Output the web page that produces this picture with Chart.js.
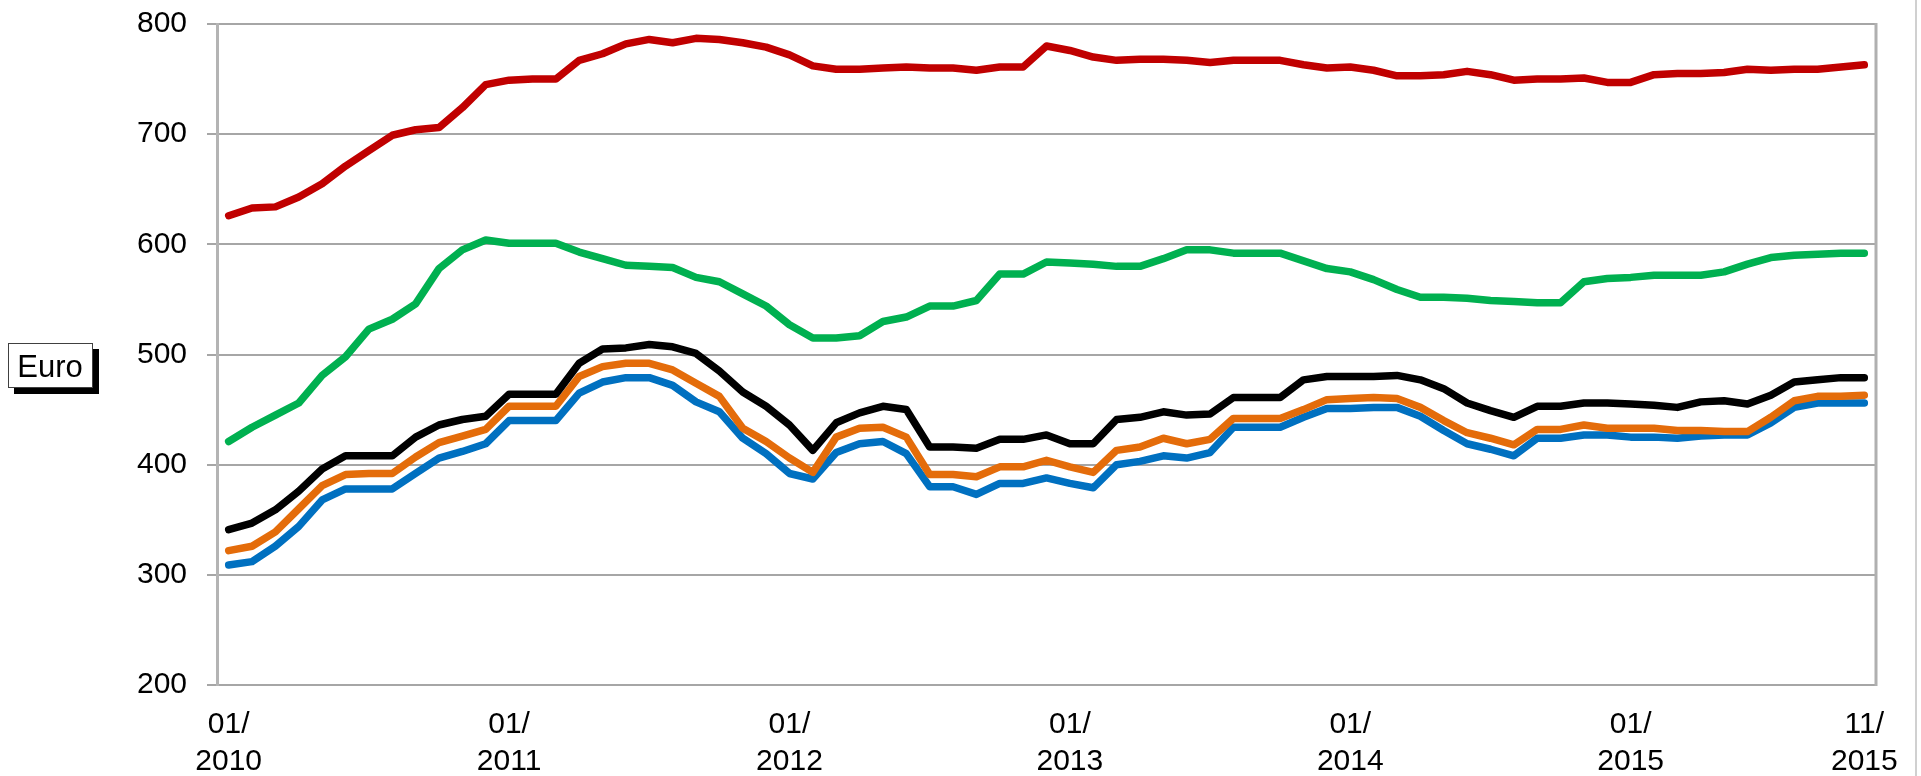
<!DOCTYPE html>
<html>
<head>
<meta charset="utf-8">
<script src="https://cdn.jsdelivr.net/npm/chart.js@4/dist/chart.umd.min.js"></script>
<style>
  html, body { margin: 0; padding: 0; background: #fff; }
  #wrap { width: 1921px; height: 776px; }
</style>
</head>
<body>
<div id="wrap"><canvas id="graph" width="1921" height="776"></canvas></div>
<script>
const months = [
  '01/2010', '02/2010', '03/2010', '04/2010', '05/2010', '06/2010', '07/2010', '08/2010', '09/2010', '10/2010', '11/2010', '12/2010',
  '01/2011', '02/2011', '03/2011', '04/2011', '05/2011', '06/2011', '07/2011', '08/2011', '09/2011', '10/2011', '11/2011', '12/2011',
  '01/2012', '02/2012', '03/2012', '04/2012', '05/2012', '06/2012', '07/2012', '08/2012', '09/2012', '10/2012', '11/2012', '12/2012',
  '01/2013', '02/2013', '03/2013', '04/2013', '05/2013', '06/2013', '07/2013', '08/2013', '09/2013', '10/2013', '11/2013', '12/2013',
  '01/2014', '02/2014', '03/2014', '04/2014', '05/2014', '06/2014', '07/2014', '08/2014', '09/2014', '10/2014', '11/2014', '12/2014',
  '01/2015', '02/2015', '03/2015', '04/2015', '05/2015', '06/2015', '07/2015', '08/2015', '09/2015', '10/2015', '11/2015',
]

// tick labels shown under the x axis
const shownTicks = ['01/2010', '01/2011', '01/2012', '01/2013', '01/2014', '01/2015', '11/2015']

const redValues = [
  626, 633, 634, 643, 655, 671, 685, 699, 704, 706, 724, 745,
  749, 750, 750, 767, 773, 782, 786, 783, 787, 786, 783, 779,
  772, 762, 759, 759, 760, 761, 760, 760, 758, 761, 761, 780,
  776, 770, 767, 768, 768, 767, 765, 767, 767, 767, 763, 760,
  761, 758, 753, 753, 754, 757, 754, 749, 750, 750, 751, 747,
  747, 754, 755, 755, 756, 759, 758, 759, 759, 761, 763,
]

const greenValues = [
  421, 434, 445, 456, 481, 498, 523, 532, 546, 578, 595, 604,
  601, 601, 601, 593, 587, 581, 580, 579, 570, 566, 555, 544,
  527, 515, 515, 517, 530, 534, 544, 544, 549, 573, 573, 584,
  583, 582, 580, 580, 587, 595, 595, 592, 592, 592, 585, 578,
  575, 568, 559, 552, 552, 551, 549, 548, 547, 547, 566, 569,
  570, 572, 572, 572, 575, 582, 588, 590, 591, 592, 592,
]

const blackValues = [
  341, 347, 359, 376, 396, 408, 408, 408, 425, 436, 441, 444,
  464, 464, 464, 492, 505, 506, 509, 507, 501, 485, 466, 453,
  436, 413, 438, 447, 453, 450, 416, 416, 415, 423, 423, 427,
  419, 419, 441, 443, 448, 445, 446, 461, 461, 461, 477, 480,
  480, 480, 481, 477, 469, 456, 449, 443, 453, 453, 456, 456,
  455, 454, 452, 457, 458, 455, 463, 475, 477, 479, 479,
]

const orangeValues = [
  322, 326, 339, 360, 381, 391, 392, 392, 407, 420, 426, 432,
  453, 453, 453, 480, 489, 492, 492, 486, 474, 462, 433, 421,
  406, 393, 425, 433, 434, 425, 391, 391, 389, 398, 398, 404,
  398, 393, 413, 416, 424, 419, 423, 442, 442, 442, 450, 459,
  460, 461, 460, 452, 440, 429, 424, 418, 432, 432, 436, 433,
  433, 433, 431, 431, 430, 430, 443, 458, 462, 462, 463,
]

const blueValues = [
  309, 312, 326, 344, 368, 378, 378, 378, 392, 406, 412, 419,
  440, 440, 440, 465, 475, 479, 479, 472, 457, 448, 424, 410,
  392, 387, 411, 419, 421, 410, 380, 380, 373, 383, 383, 388,
  383, 379, 400, 403, 408, 406, 411, 434, 434, 434, 443, 451,
  451, 452, 452, 444, 431, 419, 414, 408, 424, 424, 427, 427,
  425, 425, 424, 426, 427, 427, 438, 452, 456, 456, 456,
]

const yTicks = [200, 300, 400, 500, 600, 700, 800]
const unitLabel = 'Euro'

const FONT = 'Liberation Sans, Arial, sans-serif'

const line = (data, color) => ({
  data: data,
  borderColor: color,
  backgroundColor: color,
  borderWidth: 7.5,
  borderCapStyle: 'round',
  borderJoinStyle: 'round',
  pointRadius: 0,
  tension: 0,
  fill: false,
})

// plot frame, outer edge line and the "Euro" box
const decorations = {
  id: 'decorations',
  afterDraw(chart) {
    const { ctx, chartArea } = chart
    ctx.save()
    ctx.strokeStyle = '#b0b0b0'
    ctx.lineWidth = 3
    ctx.beginPath()
    ctx.moveTo(chartArea.right, chartArea.top - 1)
    ctx.lineTo(chartArea.right, chartArea.bottom + 1)
    ctx.stroke()

    ctx.strokeStyle = '#d0d0d0'
    ctx.lineWidth = 2
    ctx.beginPath()
    ctx.moveTo(1916, 0)
    ctx.lineTo(1916, 776)
    ctx.stroke()

    ctx.fillStyle = '#000'
    ctx.fillRect(14, 349, 85, 45)
    ctx.fillStyle = '#fff'
    ctx.fillRect(8, 343, 85, 45)
    ctx.strokeStyle = '#404040'
    ctx.lineWidth = 1
    ctx.strokeRect(8.5, 343.5, 84, 44)

    ctx.fillStyle = '#000'
    ctx.font = '31px ' + FONT
    ctx.textAlign = 'center'
    ctx.textBaseline = 'alphabetic'
    ctx.fillText(unitLabel, 50, 377)
    ctx.restore()
  },
}

new Chart(document.getElementById('graph'), {
  type: 'line',
  data: {
    labels: months,
    datasets: [
      line(redValues, '#C00000'),
      line(greenValues, '#00B050'),
      line(blackValues, '#000000'),
      line(orangeValues, '#E46C0A'),
      line(blueValues, '#0070C0'),
    ],
  },
  options: {
    responsive: false,
    animation: false,
    devicePixelRatio: 1,
    layout: {
      padding: { top: 24, right: 45, bottom: 0, left: 0 },
    },
    plugins: {
      legend: { display: false },
      tooltip: { enabled: false },
    },
    scales: {
      x: {
        type: 'category',
        offset: true,
        grid: { display: false, drawTicks: false },
        border: { display: false },
        afterFit: (scale) => {
          scale.height = 91
          scale.paddingLeft = 0
          scale.paddingRight = 0
        },
        ticks: {
          autoSkip: false,
          maxRotation: 0,
          minRotation: 0,
          padding: 21,
          color: '#000',
          font: { family: FONT, size: 30, lineHeight: 1.23 },
          callback: function (value, index) {
            const lbl = months[index]
            if (!shownTicks.includes(lbl)) return null
            const parts = lbl.split('/')
            return [parts[0] + '/', parts[1]]
          },
        },
      },
      y: {
        min: yTicks[0],
        max: yTicks[yTicks.length - 1],
        afterFit: (scale) => {
          scale.width = 217
          scale.paddingTop = 0
          scale.paddingBottom = 0
        },
        afterBuildTicks: (scale) => {
          scale.ticks = yTicks.map((v) => ({ value: v }))
        },
        grid: {
          color: '#a6a6a6',
          lineWidth: 2,
          tickLength: 10,
        },
        border: { color: '#b4b4b4', width: 3 },
        ticks: {
          padding: 20,
          color: '#000',
          font: { family: FONT, size: 30 },
        },
      },
    },
  },
  plugins: [decorations],
})
</script>
</body>
</html>
